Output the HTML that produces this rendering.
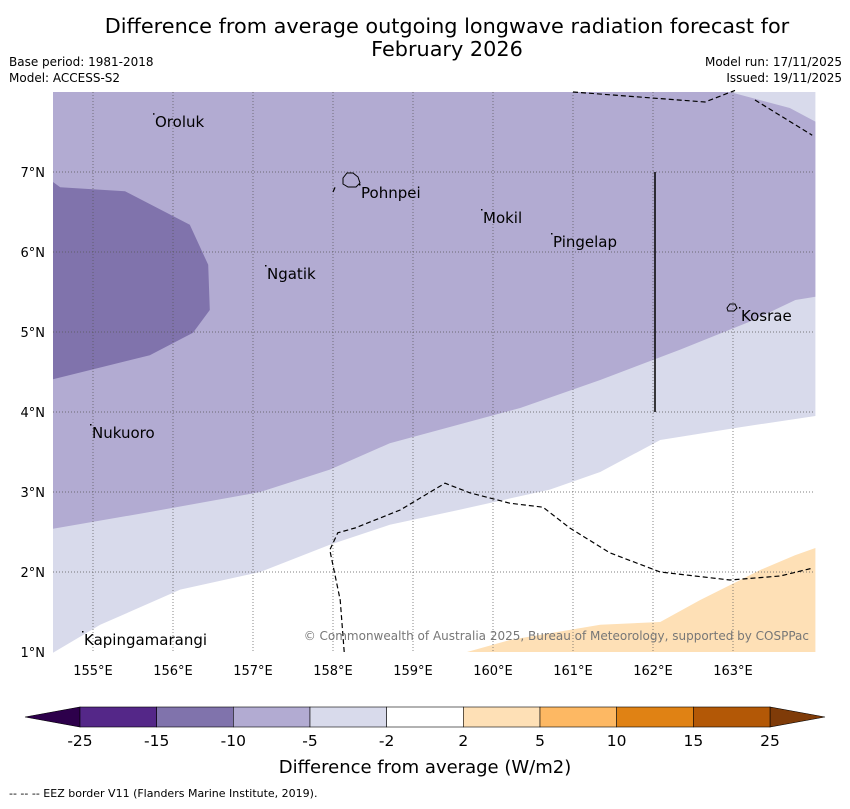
<!DOCTYPE html>
<html><head><meta charset="utf-8"><style>
body{margin:0;background:#fff;width:850px;height:804px;overflow:hidden;font-family:"Liberation Sans","DejaVu Sans",sans-serif}
</style></head><body>
<svg width="850" height="804" xmlns="http://www.w3.org/2000/svg" font-family="DejaVu Sans, Liberation Sans, sans-serif">
<text x="447" y="33" font-size="20.8" text-anchor="middle">Difference from average outgoing longwave radiation forecast for</text>
<text x="447" y="56" font-size="20.8" text-anchor="middle">February 2026</text>
<text x="9" y="66" font-size="12">Base period: 1981-2018</text>
<text x="9" y="82" font-size="12">Model: ACCESS-S2</text>
<text x="842" y="66" font-size="12" text-anchor="end">Model run: 17/11/2025</text>
<text x="842" y="82" font-size="12" text-anchor="end">Issued: 19/11/2025</text>
<g id="map"></g>
<g id="cbar"></g>
<text x="425" y="773" font-size="18" text-anchor="middle">Difference from average (W/m2)</text>
<text x="9" y="797" font-size="11">--  --  -- EEZ border V11 (Flanders Marine Institute, 2019).</text>
</svg>
<script>
const lonTicks=[155,156,157,158,159,160,161,162,163];
const latTicks=[1,2,3,4,5,6,7];
const cbLevels=["-25","-15","-10","-5","-2","2","5","10","15","25"];
const cbColors=["#542788","#8073ac","#b2abd2","#d8daeb","#ffffff","#fee0b6","#fdb863","#e08214","#b35806"];
const islands=[["Oroluk",155.775,7.56],["Pohnpei",158.35,6.675],["Mokil",159.875,6.3625],["Pingelap",160.75,6.0625],["Ngatik",157.175,5.6625],["Kosrae",163.1,5.1375],["Nukuoro",154.9875,3.675],["Kapingamarangi",154.8875,1.0875]];
const NS="http://www.w3.org/2000/svg";
const X=l=>53+(l-154.5)*80, Y=t=>92+(8-t)*80;
function mk(tag,at,par){const e=document.createElementNS(NS,tag);for(const k in at)e.setAttribute(k,at[k]);par.appendChild(e);return e;}
const map=document.getElementById('map');
const P=a=>a.map(p=>X(p[0])+','+Y(p[1])).join(' ');
const regMid=[[154.5,8],[164.03,8],[164.03,3.95],[163.09,3.81],[162.09,3.65],[161.34,3.25],[160.71,3.03],[159.59,2.78],[158.71,2.59],[157.96,2.34],[157.09,2.0],[156.09,1.78],[155.09,1.34],[154.5,0.99]];
const regPurp=[[154.5,8],[162.96,8],[163.71,7.8],[164.03,7.63],[164.03,5.44],[163.78,5.4],[163.21,5.13],[162.34,4.78],[161.34,4.4],[160.34,4.05],[158.71,3.61],[157.96,3.28],[157.09,3.0],[155.71,2.75],[154.5,2.54]];
const regDark=[[154.5,6.875],[154.59,6.81],[155.4,6.76],[156.21,6.34],[156.44,5.84],[156.46,5.275],[156.25,4.99],[155.71,4.71],[154.5,4.41]];
const regOr=[[159.675,1],[160.21,1.15],[161.34,1.34],[162.09,1.375],[162.59,1.65],[163.34,2.025],[163.775,2.21],[164.03,2.3],[164.03,1]];
mk('rect',{x:53,y:92,width:762,height:561,fill:'#ffffff'},map);
const p1=mk('polygon',{points:P(regMid),fill:'#d8daeb'},map);
const p2=mk('polygon',{points:P(regPurp),fill:'#b2abd2'},map);
const p3=mk('polygon',{points:P(regDark),fill:'#8073ac'},map);
const p4=mk('polygon',{points:P(regOr),fill:'#fee0b6'},map);
lonTicks.forEach(l=>{const g=mk('line',{x1:X(l),x2:X(l),y1:92,y2:653,stroke:'#555','stroke-width':0.7,'stroke-dasharray':'1,2'},map);
 const t=mk('text',{x:X(l),y:675,'font-size':13,'text-anchor':'middle'},map);t.textContent=l+'°E';});
latTicks.forEach(l=>{if(l>1){const g=mk('line',{x1:53,x2:815,y1:Y(l),y2:Y(l),stroke:'#555','stroke-width':0.7,'stroke-dasharray':'1,2'},map);}
 const t=mk('text',{x:45,y:Y(l)+5,'font-size':13,'text-anchor':'end'},map);t.textContent=l+'°N';});
const eez=[[[161.0,8],[162.65,7.875],[163.025,8.02]],[[163.275,7.9],[163.99,7.46]],[[158.0,6.75],[158.04,6.84]],[[158.14,1],[158.09,1.65],[157.96,2.275],[158.06,2.49],[158.275,2.55],[158.84,2.775],[159.4,3.11],[159.71,2.99],[160.21,2.86],[160.625,2.81],[160.96,2.55],[161.46,2.24],[162.09,2.0],[162.96,1.9],[163.59,1.95],[164,2.05]]];
eez.forEach(s=>{const e=mk('polyline',{points:P(s),fill:'none',stroke:'#000','stroke-width':1.2,'stroke-dasharray':'5,3'},map);});
const vl=mk('line',{x1:X(162.025),x2:X(162.025),y1:Y(7),y2:Y(4),stroke:'#000','stroke-width':1.5},map);
const pon=mk('path',{d:'M343,178 l4,-5 6,0 5,4 2,6 -4,4 -8,0 -5,-3z',fill:'none',stroke:'#000','stroke-width':1},map);
const kos=mk('path',{d:'M727,308 l3,-4 5,0 2,4 -3,3 -6,0z',fill:'none',stroke:'#000','stroke-width':1},map);
islands.forEach(d=>{const t=mk('text',{x:X(d[1]),y:Y(d[2]),'font-size':15},map);t.textContent=d[0];
 mk('rect',{x:X(d[1])-2,y:Y(d[2])-14,width:1.5,height:1.5,fill:'#000'},map);});
const cp=mk('text',{x:809,y:640,'font-size':12,'text-anchor':'end',fill:'#777'},map);cp.textContent='© Commonwealth of Australia 2025, Bureau of Meteorology, supported by COSPPac';
const cb=document.getElementById('cbar');const cx0=80,cw=690/(cbColors.length);
const lt=mk('polygon',{points:'25,717 80,707 80,727',fill:'#2d004b',stroke:'#000','stroke-width':0.6},cb);
const rt=mk('polygon',{points:'825,717 770,707 770,727',fill:'#7f3b08',stroke:'#000','stroke-width':0.6},cb);
cbColors.forEach((c,i)=>{const r=mk('rect',{x:cx0+i*cw,y:707,width:cw,height:20,fill:c,stroke:'#000','stroke-width':0.6},cb);});
cbLevels.forEach((s,i)=>{const t=mk('text',{x:cx0+i*cw,y:746,'font-size':15.5,'text-anchor':'middle'},cb);t.textContent=s;});
</script>
</body></html>
